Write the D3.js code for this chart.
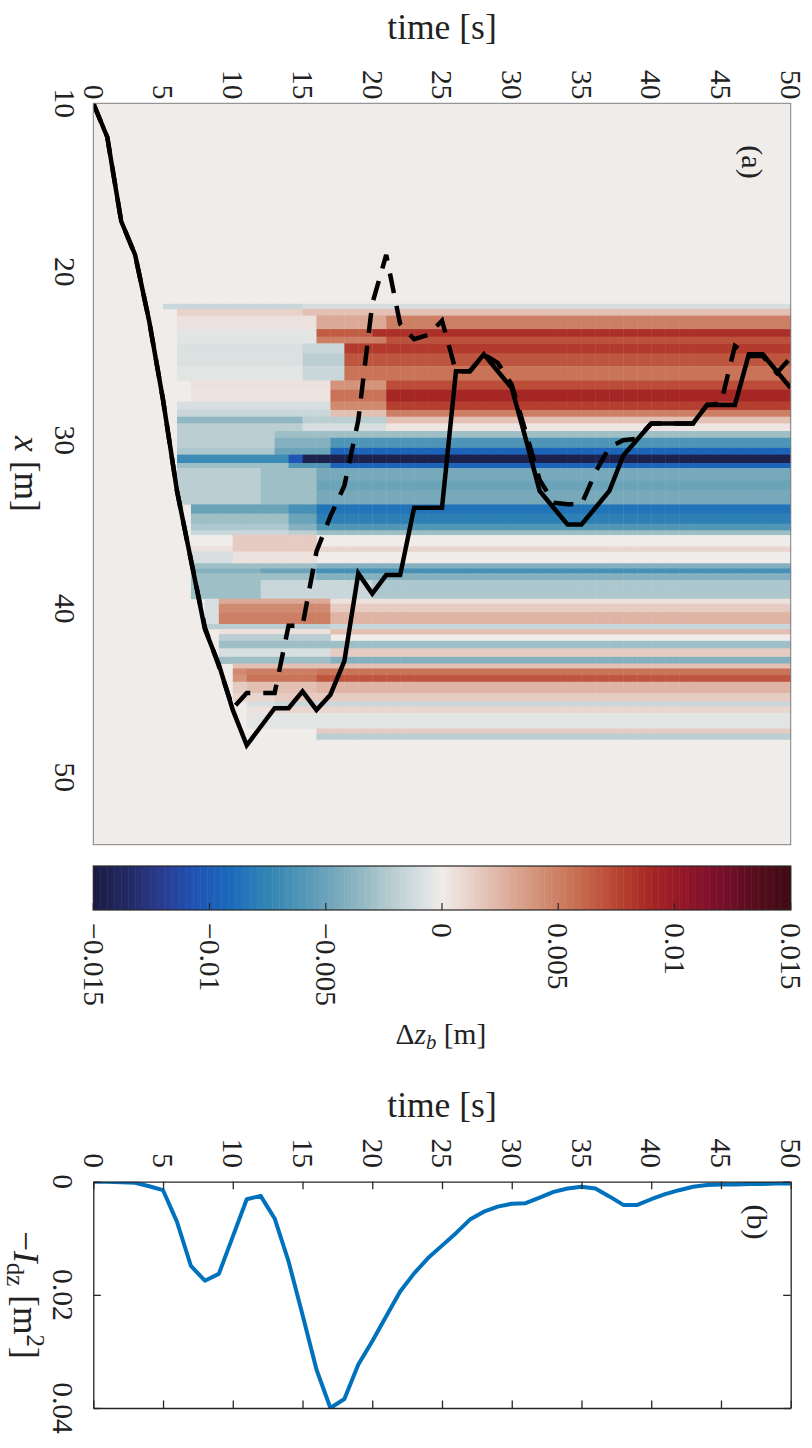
<!DOCTYPE html>
<html>
<head>
<meta charset="utf-8">
<script src="https://cdn.jsdelivr.net/npm/d3@7"></script>
<style>
  body { margin: 0; background: #fff; }
  svg text { font-family: "Liberation Serif", "Times New Roman", serif; fill: #222; }
</style>
</head>
<body>
<div id="container"></div>
<script>
var width = 812, height = 1448;

// ---------------- data ----------------
var timeTicks = [0, 5, 10, 15, 20, 25, 30, 35, 40, 45, 50];
var xTicks = [10, 20, 30, 40, 50];
var cbTicks = [-0.015, -0.01, -0.005, 0, 0.005, 0.01, 0.015];
var idzTicks = [0, 0.02, 0.04];

var times = d3.range(0, 51);   // one sample per second

// front position x [m] at each second
var frontSolid = [10, 12, 17, 19, 22.9, 27.6, 33.0, 37.1, 41.2, 43.3,
  46.0, 48.1, 47.0, 45.9, 45.9, 44.9, 46.0, 45.1, 43.1, 37.9,
  39.1, 38.0, 38.0, 34.0, 34.0, 34.0, 25.9, 25.9, 24.9, 25.9,
  26.9, 29.9, 33.0, 34.0, 35.0, 35.0, 34.0, 33.0, 30.9, 29.95,
  29.0, 29.0, 29.0, 29.0, 27.9, 27.9, 27.9, 24.9, 24.9, 25.9, 26.9];
var frontDashed = [10, 12, 17, 19, 22.9, 27.6, 33.0, 37.1, 41.1, 43.4,
  45.9, 45.0, 45.0, 45.0, 41.0, 41.0, 36.6, 34.5, 32.7, 28.8,
  21.9, 19.0, 23.1, 24.0, 23.75, 22.9, 25.9, 25.9, 24.9, 25.4,
  26.7, 29.5, 32.35, 33.7, 33.8, 33.8, 31.9, 30.4, 30.0, 29.9,
  29.0, 29.0, 29.0, 29.0, 27.9, 27.8, 24.4, 25.0, 25.0, 26.0, 25.1];

// -I_dz [m^2]
var idz = [0, 0, 0.0001, 0.0002, 0.0008, 0.0015, 0.0071, 0.0149, 0.0175, 0.0163,
  0.0097, 0.0031, 0.0025, 0.0065, 0.0141, 0.0235, 0.0332, 0.0400, 0.0384, 0.0323,
  0.0282, 0.0238, 0.0194, 0.0162, 0.0135, 0.0113, 0.0091, 0.0067, 0.0053, 0.0044,
  0.0039, 0.0038, 0.0028, 0.0018, 0.0012, 0.0009, 0.0012, 0.0026, 0.0041, 0.0041,
  0.0031, 0.0022, 0.0015, 0.0009, 0.0006, 0.0005, 0.0005, 0.0004, 0.0004, 0.0003, 0.0003];

// bed change bands along x [m]; each band has an early, mid and late value
var bandEdges = [21.9, 22.2, 22.6, 23.4, 23.85, 24.25, 24.85, 25.6, 26.45, 27.0,
  27.7, 28.2, 28.6, 29.0, 29.45, 29.85, 30.45, 30.85, 31.35, 31.65,
  32.4, 32.95, 33.8, 34.35, 34.95, 35.35, 35.6, 36.3, 36.6, 37.3,
  37.6, 37.9, 38.3, 39.4, 39.7, 40.2, 40.9, 41.2, 41.5, 41.9,
  42.35, 42.85, 43.25, 43.54, 43.93, 44.33, 45.0, 45.5, 45.8, 46.2,
  47.1, 47.4, 47.75];
var bandStart = [5, 6, 6, 6, 6, 6, 6, 6, 7, 7,
  6, 6, 6, 6, 6, 6, 6, 6, 6, 6,
  6, 6, 7, 7, 7, 7, 7, 7, 7, 7,
  7, 7, 7, 8, 8, 8, 8, 9, 9, 9,
  9, 9, 10, 10, 10, 10, 10, 11, 11, 11,
  16, 16];
var dzEarly = [-0.0015, 0.0012, 0.0005, -0.0005, -0.0005, -0.0008, -0.0008, -0.0005, 0.0005, 0.0003,
  -0.001, -0.0015, -0.0035, -0.002, -0.002, -0.002, -0.0025, -0.007, -0.003, -0.002,
  -0.002, -0.002, -0.005, -0.003, -0.0025, -0.0015, 0, 0.0005, -0.001, -0.003,
  -0.004, -0.003, -0.003, -0.001, -0.001, -0.001, -0.002, 0.0005, -0.002, -0.003,
  -0.001, -0.003, 0.002, 0.0045, 0.004, 0.0015, 0.001, -0.001, 0.0005, -0.0005,
  0.0015, -0.002];
var bandMid = [15, 15, 16, 16, 16, 15, 15, 15, 17, 17,
  17, 17, 15, 15, 13, 13, 13, 14, 14, 12,
  12, 12, 14, 14, 14, 14, 10, 10, 10, 12,
  12, 12, 12, 9, 9, 9, 9, 9, 9, 9,
  9, 9, 10, 11, 11, 11, 13, 13, 13, 13,
  16, 16];
var dzMid = [-0.001, 0.002, 0.003, 0.0065, 0.005, -0.0015, -0.002, -0.0015, 0.004, 0.0055,
  0.0045, 0.002, -0.002, -0.001, -0.003, -0.004, -0.005, -0.0105, -0.006, -0.003,
  -0.003, -0.003, -0.0065, -0.005, -0.004, -0.002, 0.0015, 0.0015, 0.0005, -0.003,
  -0.005, -0.003, -0.0015, 0.003, 0.0045, 0.005, -0.002, 0.0005, -0.002, -0.003,
  -0.001, -0.003, 0.002, 0.005, 0.0055, 0.002, 0.0015, -0.0015, 0.001, -0.0005,
  0.0015, -0.002];
var bandLate = [15, 22, 21, 20, 21, 18, 18, 18, 21, 21,
  21, 21, 21, 21, 18, 17, 17, 15, 17, 16,
  16, 16, 16, 16, 16, 16, 16, 16, 16, 16,
  16, 16, 20, 17, 17, 17, 17, 17, 17, 17,
  17, 17, 17, 16, 16, 16, 16, 16, 16, 16,
  16, 16];
var dzLate = [-0.001, 0.002, 0.005, 0.0085, 0.007, 0.008, 0.0068, 0.0055, 0.0072, 0.009,
  0.0078, 0.005, 0.002, 0.0003, -0.003, -0.0062, -0.0095, -0.0145, -0.0095, -0.0045,
  -0.005, -0.0045, -0.0085, -0.0078, -0.006, -0.003, 0, 0.001, 0, -0.004,
  -0.0065, -0.004, -0.0025, 0.0005, 0.0015, 0.0025, -0.0015, 0.002, 0, -0.003,
  0.0015, -0.004, 0.002, 0.0055, 0.0068, 0.0025, 0.0015, -0.0015, 0.001, -0.0005,
  0.0015, -0.002];

// diverging colour map, 21 stops from -0.015 to 0.015
var cmapStops = ["#1a1c44", "#232a63", "#283c92", "#1f55b7", "#1a6bbb", "#3185b4", "#5296b6",
  "#77a9bb", "#9ebfc6", "#c9d7da", "#f0ecea", "#e6cbc2", "#dba995", "#d08a70",
  "#c5694d", "#b84533", "#a62625", "#911528", "#770f2b", "#560e1d", "#3c0912"];

// ---------------- layout ----------------
var fontFam = "'Liberation Serif', 'Times New Roman', serif";
var tickFont = 29.5, labelFont = 35.5;
var axisCol = "#262626";

var svg = d3.select("#container").append("svg")
    .attr("width", width)
    .attr("height", height)
    .attr("font-family", fontFam);

var tScale = d3.scaleLinear().domain([0, 50]).range([93.3, 790.7]);
var xScale = d3.scaleLinear().domain([10, 54]).range([103.3, 844.7]);
var cbScale = d3.scaleLinear().domain([-0.015, 0.015]).range([93.3, 790.7]);
var iScale = d3.scaleLinear().domain([0, 0.04]).range([1181.7, 1408]);

var color = d3.scaleLinear()
    .domain(cmapStops.map(function(d, i) { return -0.015 + i * 0.0015; }))
    .range(cmapStops)
    .interpolate(d3.interpolateRgb)
    .clamp(true);

// rotated text: baseline at bx, runs downward from y
function rotText(g, bx, y, anchor, size) {
  return g.append("text")
    .attr("transform", "translate(" + bx + "," + y + ") rotate(90)")
    .attr("text-anchor", anchor)
    .attr("font-family", fontFam)
    .style("font-size", size + "px");
}

// ---------------- panel (a) ----------------
var pa = svg.append("g");
var x0 = tScale(0), x1 = tScale(50), y0 = xScale(10), y1 = xScale(54);

pa.append("rect")
    .attr("x", x0).attr("y", y0)
    .attr("width", x1 - x0).attr("height", y1 - y0)
    .attr("fill", color(0));

var cells = [];
bandEdges.slice(0, -1).forEach(function(e, i) {
  d3.range(50).forEach(function(t) {
    var v = 0;
    if (t >= bandLate[i]) v = dzLate[i];
    else if (t >= bandMid[i]) v = dzMid[i];
    else if (t >= bandStart[i]) v = dzEarly[i];
    if (v !== 0) cells.push({t: t, a: e, b: bandEdges[i + 1], v: v});
  });
});

pa.append("g").selectAll("rect")
    .data(cells)
  .enter().append("rect")
    .attr("x", function(d) { return tScale(d.t); })
    .attr("y", function(d) { return xScale(d.a); })
    .attr("width", function(d) { return tScale(d.t + 1) - tScale(d.t) + 0.4; })
    .attr("height", function(d) { return xScale(d.b) - xScale(d.a) + 0.4; })
    .attr("fill", function(d) { return color(d.v); });

svg.append("defs").append("clipPath")
    .attr("id", "clipA")
  .append("rect")
    .attr("x", x0).attr("y", y0)
    .attr("width", x1 - x0).attr("height", y1 - y0);

var frontLine = d3.line()
    .x(function(d, i) { return tScale(times[i]); })
    .y(function(d) { return xScale(d); });

var lines = pa.append("g").attr("clip-path", "url(#clipA)");
lines.append("path")
    .attr("d", frontLine(frontDashed))
    .attr("fill", "none")
    .attr("stroke", "#000")
    .attr("stroke-width", 4.5)
    .attr("stroke-dasharray", "20,13")
    .attr("stroke-linejoin", "miter");
lines.append("path")
    .attr("d", frontLine(frontSolid))
    .attr("fill", "none")
    .attr("stroke", "#000")
    .attr("stroke-width", 4.5)
    .attr("stroke-linejoin", "miter");

pa.append("rect")
    .attr("x", x0).attr("y", y0)
    .attr("width", x1 - x0).attr("height", y1 - y0)
    .attr("fill", "none")
    .attr("stroke", "#808080")
    .attr("stroke-width", 1);

// time tick labels (top)
timeTicks.forEach(function(t) {
  rotText(pa, tScale(t) - 0.33 * tickFont, 99.5, "end", tickFont).text(t);
});
// x tick labels (left)
xTicks.forEach(function(v) {
  rotText(pa, 55, xScale(v), "middle", tickFont).text(v);
});

pa.append("text")
    .attr("x", 442).attr("y", 38.5)
    .attr("text-anchor", "middle")
    .style("font-size", labelFont + "px")
    .text("time [s]");

var xl = rotText(pa, 15, xScale(32), "middle", labelFont);
xl.append("tspan").style("font-style", "italic").text("x");
xl.append("tspan").text(" [m]");

rotText(pa, 742, 162, "middle", 30).text("(a)");

// ---------------- colour bar ----------------
var cb = svg.append("g");
var cbTop = 866, cbBot = 910;
var cbSteps = d3.range(0, 300);
cb.selectAll("rect.cstep")
    .data(cbSteps)
  .enter().append("rect")
    .attr("class", "cstep")
    .attr("x", function(i) { return cbScale(-0.015 + i * 0.0001); })
    .attr("y", cbTop)
    .attr("width", cbScale(0.0001) - cbScale(0) + 0.5)
    .attr("height", cbBot - cbTop)
    .attr("fill", function(i) { return color(-0.015 + (i + 0.5) * 0.0001); });

cb.append("rect")
    .attr("x", cbScale(-0.015)).attr("y", cbTop)
    .attr("width", cbScale(0.015) - cbScale(-0.015)).attr("height", cbBot - cbTop)
    .attr("fill", "none")
    .attr("stroke", axisCol)
    .attr("stroke-width", 1.2);

cb.selectAll("line.ctick")
    .data(cbTicks)
  .enter().append("line")
    .attr("class", "ctick")
    .attr("x1", function(d) { return cbScale(d); })
    .attr("x2", function(d) { return cbScale(d); })
    .attr("y1", cbBot)
    .attr("y2", cbBot - 7)
    .attr("stroke", axisCol)
    .attr("stroke-width", 1.2);

function cbFormat(v) {
  if (v === 0) return "0";
  return (v < 0 ? "\u2212" : "") + String(Math.abs(v));
}
cbTicks.forEach(function(v) {
  rotText(cb, cbScale(v) - 0.33 * tickFont, 923, "start", tickFont).text(cbFormat(v));
});

var cbl = cb.append("text")
    .attr("x", 441).attr("y", 1044)
    .attr("text-anchor", "middle")
    .style("font-size", tickFont + "px");
cbl.append("tspan").text("\u0394");
cbl.append("tspan").style("font-style", "italic").text("z");
cbl.append("tspan").style("font-style", "italic").style("font-size", (tickFont * 0.7) + "px")
    .attr("dy", 5).text("b");
cbl.append("tspan").attr("dy", -5).text(" [m]");

// ---------------- panel (b) ----------------
var pb = svg.append("g");
var by0 = iScale(0), by1 = iScale(0.04);

svg.select("defs").append("clipPath")
    .attr("id", "clipB")
  .append("rect")
    .attr("x", x0).attr("y", by0)
    .attr("width", x1 - x0).attr("height", by1 - by0);

var idzLine = d3.line()
    .x(function(d, i) { return tScale(times[i]); })
    .y(function(d) { return iScale(d); });

pb.append("path")
    .attr("d", idzLine(idz))
    .attr("clip-path", "url(#clipB)")
    .attr("fill", "none")
    .attr("stroke", "#0072bd")
    .attr("stroke-width", 4)
    .attr("stroke-linejoin", "round");

function styleAxis(g) {
  g.selectAll("path.domain").attr("stroke", axisCol).attr("stroke-width", 1.3);
  g.selectAll(".tick line").attr("stroke", axisCol).attr("stroke-width", 1.3);
  g.selectAll(".tick text").remove();
}

pb.append("g").attr("transform", "translate(0," + by0 + ")")
    .call(d3.axisTop(tScale).tickValues(timeTicks).tickSizeInner(-7.5).tickSizeOuter(0))
    .call(styleAxis);
pb.append("g").attr("transform", "translate(0," + by1 + ")")
    .call(d3.axisBottom(tScale).tickValues(timeTicks).tickSizeInner(-7.5).tickSizeOuter(0))
    .call(styleAxis);
pb.append("g").attr("transform", "translate(" + x0 + ",0)")
    .call(d3.axisLeft(iScale).tickValues(idzTicks).tickSizeInner(-7.5).tickSizeOuter(0))
    .call(styleAxis);
pb.append("g").attr("transform", "translate(" + x1 + ",0)")
    .call(d3.axisRight(iScale).tickValues(idzTicks).tickSizeInner(-7.5).tickSizeOuter(0))
    .call(styleAxis);

timeTicks.forEach(function(t) {
  rotText(pb, tScale(t) - 0.33 * tickFont, 1168, "end", tickFont).text(t);
});
idzTicks.forEach(function(v) {
  rotText(pb, 53.3, iScale(v), "middle", tickFont).text(v === 0 ? "0" : String(v));
});

pb.append("text")
    .attr("x", 442).attr("y", 1116.5)
    .attr("text-anchor", "middle")
    .style("font-size", labelFont + "px")
    .text("time [s]");

var il = rotText(pb, 14, iScale(0.02), "middle", labelFont);
il.append("tspan").text("\u2212");
il.append("tspan").style("font-style", "italic").text("I");
il.append("tspan").style("font-size", (labelFont * 0.7) + "px").attr("dy", 7).text("dz");
il.append("tspan").attr("dy", -7).text(" [m");
il.append("tspan").style("font-size", (labelFont * 0.7) + "px").attr("dy", -13).text("2");
il.append("tspan").attr("dy", 13).text("]");

rotText(pb, 747, 1222, "middle", 30).text("(b)");
</script>
</body>
</html>
